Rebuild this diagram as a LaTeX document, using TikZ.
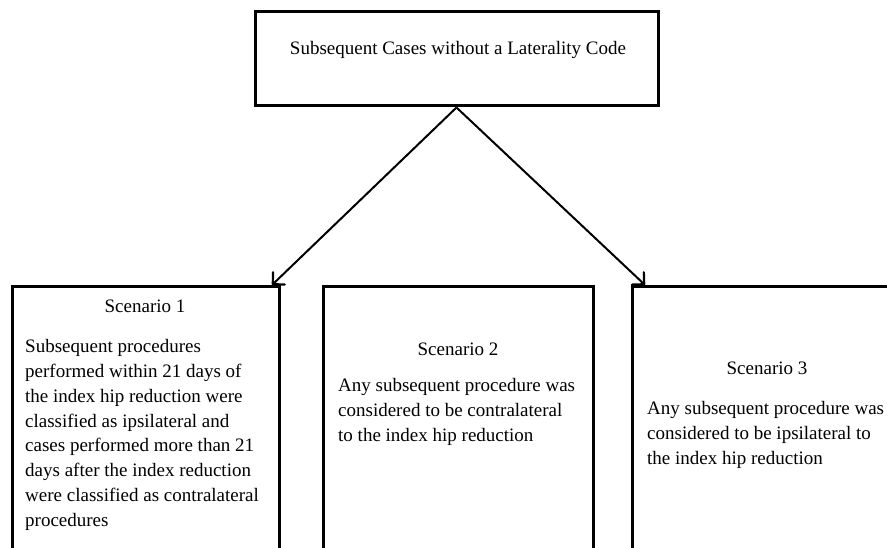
\documentclass[tikz,border=0pt]{standalone}
\usepackage{fontspec}
\setmainfont{Liberation Serif}
\usetikzlibrary{arrows.meta}
\begin{document}
\begin{tikzpicture}[x=1pt,y=-1pt,
  box/.style={draw=black,line width=3pt,rectangle,inner sep=0pt},
  txt/.style={inner sep=0pt,font=\fontsize{19}{24.9}\selectfont,align=left},
  arr/.style={line width=2pt,-{Straight Barb[length=8.5pt,width=17pt,line width=2.2pt,round]}}]
\useasboundingbox (0,0) rectangle (887,548);
\clip (0,0) rectangle (887,548);
\node[box,minimum width=403pt,minimum height=94pt] (top) at (456.5,59) {};
\node[txt] (toptxt) at (458,50) {Subsequent Cases without a Laterality Code};
\node[box,minimum width=267pt,minimum height=290pt] (s1) at (145.5,432) {};
\node[box,minimum width=270pt,minimum height=290pt] (s2) at (458,432) {};
\node[box,minimum width=268pt,minimum height=290pt] (s3) at (766,432) {};
\node[txt] (h1) at (145,306) {Scenario 1};
\node[txt,anchor=north west] (b1) at (25,339) {Subsequent procedures\\performed within 21 days of\\the index hip reduction were\\classified as ipsilateral and\\cases performed more than 21\\days after the index reduction\\were classified as contralateral\\procedures};
\node[txt] (h2) at (458,349) {Scenario 2};
\node[txt,anchor=north west] (b2) at (338,378) {Any subsequent procedure was\\considered to be contralateral\\to the index hip reduction};
\node[txt] (h3) at (767,368) {Scenario 3};
\node[txt,anchor=north west] (b3) at (647,401) {Any subsequent procedure was\\considered to be ipsilateral to\\the index hip reduction};
\coordinate (e1) at (272,285);
\coordinate (e3) at (645,285);
\draw[arr] (top.south) -- (e1);
\draw[arr] (top.south) -- (e3);
\end{tikzpicture}
\end{document}
